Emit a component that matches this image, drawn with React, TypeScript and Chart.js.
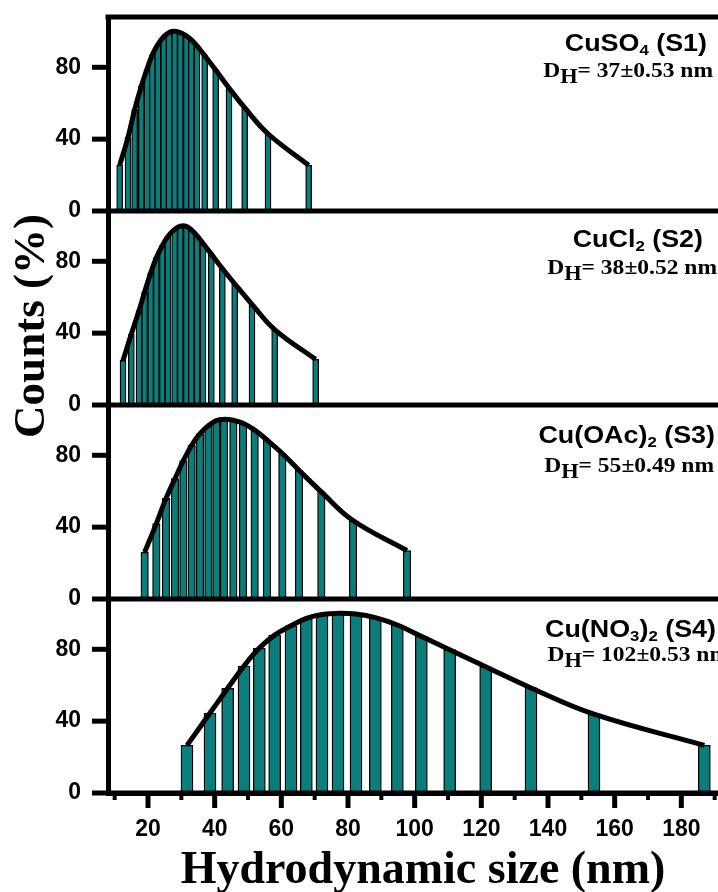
import React, { useEffect, useRef } from 'react';
import { Chart, registerables } from 'chart.js';

Chart.register(...registerables);

// ---------- data ----------
const sizesS1 = [11.5, 14.0, 16.0, 18.0, 19.7, 21.3, 23.0, 24.7, 26.3, 28.0, 29.7, 31.5, 33.0, 34.7, 37.0, 40.3, 44.3, 49.0, 56.0, 68.2];
const countsS1 = [25.5, 41, 56.5, 69.5, 79, 87, 92.8, 97, 99.4, 100, 99.3, 97.5, 95.3, 92, 86.5, 78.5, 68.5, 57.5, 43, 25.5];

const sizesS2 = [12.5, 15.0, 17.3, 19.0, 20.8, 22.5, 24.3, 26.0, 28.0, 29.7, 31.5, 33.0, 34.7, 36.5, 39.0, 42.3, 46.0, 51.2, 58.0, 70.3];
const countsS2 = [24.8, 39.5, 52.5, 63, 73.5, 82, 88.8, 94, 97.8, 99.6, 99.5, 97.5, 94.3, 90, 84, 76, 67.5, 56, 42, 25.4];

const sizesS3 = [19.0, 22.5, 25.4, 28.1, 30.6, 33.1, 35.6, 38.1, 40.5, 42.8, 45.6, 48.5, 52.0, 55.7, 60.3, 65.3, 72.0, 81.5, 97.7];
const countsS3 = [26, 42, 56, 67, 77, 85.6, 92, 96.5, 99.4, 100, 99.5, 97.8, 94, 88.5, 81, 71.7, 59.6, 43.7, 27];

const sizesS4 = [31.7, 38.6, 43.9, 48.8, 53.4, 58.0, 62.9, 67.5, 72.2, 77.0, 82.4, 88.2, 94.8, 102.0, 110.5, 121.3, 134.9, 153.8, 186.9];
const countsS4 = [26.5, 44.5, 58.3, 70.7, 80.7, 87.9, 93.1, 97.2, 99.4, 100, 99.6, 97.6, 93.5, 87.2, 79.8, 70.3, 58.5, 43.9, 26.5];

const panelIds = ['yS1', 'yS2', 'yS3', 'yS4'];
const panelSizes = [sizesS1, sizesS2, sizesS3, sizesS4];
const panelCounts = [countsS1, countsS2, countsS3, countsS4];
const panelBarWidths = [6, 6, 7.5, 12];

// formula parts: [text, isSubscript]
const panelFormulas: [string, boolean][][] = [
  [['CuSO', false], ['4', true], [' (S1)', false]],
  [['CuCl', false], ['2', true], [' (S2)', false]],
  [['Cu(OAc)', false], ['2', true], [' (S3)', false]],
  [['Cu(NO', false], ['3', true], [')', false], ['2', true], [' (S4)', false]],
];
const panelDH = ['37±0.53', '38±0.52', '55±0.49', '102±0.53'];

const xMin = 8;
const xMax = 197;
const yMin = 0;
const yMax = 108;
const xStep = 10;
const xLabelEvery = 20;
const yStep = 20;
const yLabelEvery = 40;

const xTitle = 'Hydrodynamic size (nm)';
const yTitle = 'Counts (%)';

// ---------- layout / style ----------
const CANVAS_W = 738;
const CANVAS_H = 892;
const TEAL = '#0b7d7b';
const SANS = "'Liberation Sans', Arial, sans-serif";
const SERIF = "'Liberation Serif', 'Times New Roman', serif";

// label placement per panel: [line1 right, line1 baseline offset, line2 right, line2 baseline offset]
const labelPlace = [
  [707, 34, 713, 60],
  [703, 36, 717, 63],
  [715, 38, 714, 67],
  [716, 38, 729, 62],
];

function drawParts(ctx: CanvasRenderingContext2D, parts: [string, boolean][], mainFont: string, subFont: string, subDy: number, xRight: number, baseline: number, stretch: number) {
  let w = 0;
  for (const [t, sub] of parts) {
    ctx.font = sub ? subFont : mainFont;
    w += ctx.measureText(t).width;
  }
  ctx.save();
  ctx.translate(xRight - w * stretch, baseline);
  ctx.scale(stretch, 1);
  let x = 0;
  for (const [t, sub] of parts) {
    ctx.font = sub ? subFont : mainFont;
    ctx.fillText(t, x, sub ? subDy : 0);
    x += ctx.measureText(t).width;
  }
  ctx.restore();
}

const decorPlugin = {
  id: 'decor',
  afterDatasetsDraw(chart: any) {
    const ctx: CanvasRenderingContext2D = chart.ctx;
    const { left, top, bottom } = chart.chartArea;
    const W = chart.width;
    ctx.save();
    ctx.strokeStyle = '#000';
    ctx.fillStyle = '#000';
    ctx.lineCap = 'butt';
    const seg = (x1: number, y1: number, x2: number, y2: number, lw: number) => {
      ctx.lineWidth = lw;
      ctx.beginPath();
      ctx.moveTo(x1, y1);
      ctx.lineTo(x2, y2);
      ctx.stroke();
    };
    // top frame line
    seg(left - 2.5, top, W, top, 5);
    // panel zero lines + y ticks
    panelIds.forEach((id) => {
      const s = chart.scales[id];
      const y0 = s.getPixelForValue(0);
      seg(left, y0, W, y0, 5);
      for (const t of s.ticks) {
        const py = s.getPixelForValue(t.value);
        const major = t.value % yLabelEvery === 0;
        seg(left - (major ? 16 : 7), py, left, py, major ? 5 : 4);
      }
    });
    // x ticks
    const xs = chart.scales.x;
    for (const t of xs.ticks) {
      const px = xs.getPixelForValue(t.value);
      const major = t.value % xLabelEvery === 0;
      seg(px, bottom, px, bottom + (major ? 15 : 7), major ? 5 : 4);
    }
    // panel labels
    panelIds.forEach((id, i) => {
      const s = chart.scales[id];
      const pt = s.top;
      const [r1, b1, r2, b2] = labelPlace[i];
      drawParts(ctx, panelFormulas[i], `bold 24px ${SANS}`, `bold 15px ${SANS}`, 4, r1, pt + b1, 1.12);
      drawParts(ctx, [['D', false], ['H', true], ['= ' + panelDH[i] + ' nm', false]], `bold 21px ${SERIF}`, `bold 20px ${SERIF}`, 6, r2, pt + b2, 1.12);
    });
    // y title
    ctx.save();
    ctx.translate(44, 326);
    ctx.rotate(-Math.PI / 2);
    ctx.font = `bold 45px ${SERIF}`;
    ctx.textAlign = 'center';
    ctx.textBaseline = 'alphabetic';
    ctx.fillText(yTitle, 0, 0);
    ctx.restore();
    ctx.restore();
  },
};

export default function App() {
  const ref = useRef<HTMLCanvasElement | null>(null);
  useEffect(() => {
    if (!ref.current) return;
    Chart.defaults.font.family = SANS;
    Chart.defaults.color = '#000';

    const tickFont = { size: 23, weight: 'bold' as const, family: SANS };
    const hiddenGrid = (len: number) => ({
      display: true,
      drawOnChartArea: false,
      drawTicks: true,
      tickLength: len,
      color: 'rgba(0,0,0,0)',
      offset: false,
    });
    const scales: any = {
      x: {
        type: 'linear',
        axis: 'x',
        position: 'bottom',
        min: xMin,
        max: xMax,
        offset: false,
        afterFit: (s: any) => { s.height = 99; },
        grid: hiddenGrid(23),
        border: { display: true, color: '#000', width: 5 },
        ticks: {
          stepSize: xStep,
          autoSkip: false,
          maxRotation: 0,
          minRotation: 0,
          includeBounds: false,
          padding: 0,
          color: '#000',
          font: tickFont,
          callback: (v: number) => (v % xLabelEvery === 0 ? String(v) : ''),
        },
        title: {
          display: true,
          text: xTitle,
          color: '#000',
          font: { size: 46, weight: 'bold', family: SERIF, lineHeight: 1 },
          padding: { top: 0, bottom: -2 },
        },
      },
    };
    panelIds.forEach((id, i) => {
      scales[id] = {
        type: 'linear',
        axis: 'y',
        position: 'left',
        stack: 'panels',
        stackWeight: 1,
        weight: 4 - i,
        min: yMin,
        max: yMax,
        afterFit: (s: any) => { s.width = 108; },
        grid: hiddenGrid(27),
        border: { display: true, color: '#000', width: 5 },
        ticks: {
          stepSize: yStep,
          includeBounds: false,
          padding: 0,
          color: '#000',
          font: tickFont,
          callback: (v: number) => (v % yLabelEvery === 0 ? String(v) : ''),
        },
      };
    });

    const datasets: any[] = [];
    panelIds.forEach((id, i) => {
      const pts = panelSizes[i].map((s, k) => ({ x: s, y: panelCounts[i][k] }));
      datasets.push({
        type: 'line',
        label: 'fit ' + id,
        xAxisID: 'x',
        yAxisID: id,
        data: pts,
        borderColor: '#000',
        borderWidth: 5,
        pointRadius: 0,
        tension: 0.4,
        fill: false,
        order: 0,
      });
      datasets.push({
        type: 'bar',
        label: 'counts ' + id,
        xAxisID: 'x',
        yAxisID: id,
        data: pts,
        backgroundColor: TEAL,
        borderColor: '#000',
        borderWidth: 1.3,
        barThickness: panelBarWidths[i],
        grouped: false,
        order: 1,
      });
    });

    const chart = new Chart(ref.current, {
      type: 'bar',
      data: { datasets },
      options: {
        responsive: false,
        maintainAspectRatio: false,
        animation: false,
        layout: { padding: { top: 17, left: 0, right: 0, bottom: 0 } },
        plugins: { legend: { display: false }, tooltip: { enabled: false } },
        scales,
      } as any,
      plugins: [decorPlugin],
    });
    return () => chart.destroy();
  }, []);

  return (
    <div style={{ position: 'absolute', left: 0, top: 0, width: 718, height: 892, overflow: 'hidden', background: '#fff' }}>
      <canvas ref={ref} width={CANVAS_W} height={CANVAS_H} style={{ display: 'block', width: CANVAS_W, height: CANVAS_H }} />
    </div>
  );
}
